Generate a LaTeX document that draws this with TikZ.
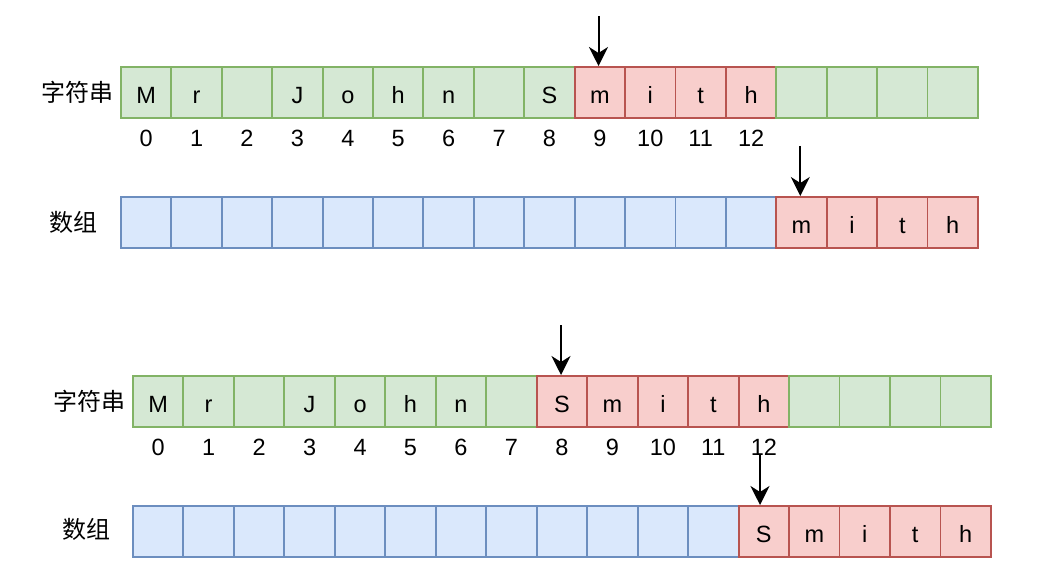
\documentclass[tikz,border=0pt]{standalone}
\usepackage{fontspec}
\setmainfont{Liberation Sans}
\newfontfamily\cjk{Noto Sans CJK SC}
\usetikzlibrary{arrows.meta}
\definecolor{gfill}{HTML}{D5E8D4}
\definecolor{gdraw}{HTML}{82B366}
\definecolor{rfill}{HTML}{F8CECC}
\definecolor{rdraw}{HTML}{B85450}
\definecolor{bfill}{HTML}{DAE8FC}
\definecolor{bdraw}{HTML}{6C8EBF}
\begin{document}
\begin{tikzpicture}[x=1pt,y=-1pt,
  cell/.style={draw, line width=1.9pt, minimum width=50.45pt, minimum height=51pt,
    inner sep=0pt, anchor=north west, font=\fontsize{23.5}{23.5}\selectfont,
    text height=26pt, text depth=4pt},
  idx/.style={anchor=base, inner sep=0pt, font=\fontsize{23.5}{23.5}\selectfont},
  lab/.style={inner sep=0pt, font=\cjk\fontsize{24}{24}\selectfont},
  ptr/.style={line width=2pt, -{Stealth[length=19pt, width=19pt, inset=6pt]}}
]
\useasboundingbox (0,0) rectangle (1040,585);

% ---------- top string row ----------
\foreach \t [count=\i from 0] in {M,r,{},J,o,h,n,{},S,m,i,t,h,{},{},{},{}} {
  \ifnum\i<9 \def\fc{gfill}\def\dc{gdraw}\else
    \ifnum\i<13 \def\fc{rfill}\def\dc{rdraw}\else \def\fc{gfill}\def\dc{gdraw}\fi\fi
  \node[cell, fill=\fc, draw=\dc] (sa\i) at (120+50.41*\i, 66) {\t};
}
\foreach \i in {0,...,12} {
  \node[idx] (ia\i) at ([yshift=-27.5pt]sa\i.south) {\i};
}
% ---------- top array row ----------
\foreach \t [count=\i from 0] in {{},{},{},{},{},{},{},{},{},{},{},{},{},m,i,t,h} {
  \ifnum\i<13 \def\fc{bfill}\def\dc{bdraw}\else \def\fc{rfill}\def\dc{rdraw}\fi
  \node[cell, fill=\fc, draw=\dc] (aa\i) at (120+50.41*\i, 196) {\t};
}
% ---------- bottom string row ----------
\foreach \t [count=\i from 0] in {M,r,{},J,o,h,n,{},S,m,i,t,h,{},{},{},{}} {
  \ifnum\i<8 \def\fc{gfill}\def\dc{gdraw}\else
    \ifnum\i<13 \def\fc{rfill}\def\dc{rdraw}\else \def\fc{gfill}\def\dc{gdraw}\fi\fi
  \node[cell, fill=\fc, draw=\dc] (sb\i) at (132+50.47*\i, 375) {\t};
}
\foreach \i in {0,...,12} {
  \node[idx] (ib\i) at ([yshift=-27.5pt]sb\i.south) {\i};
}
% ---------- bottom array row ----------
\foreach \t [count=\i from 0] in {{},{},{},{},{},{},{},{},{},{},{},{},S,m,i,t,h} {
  \ifnum\i<12 \def\fc{bfill}\def\dc{bdraw}\else \def\fc{rfill}\def\dc{rdraw}\fi
  \node[cell, fill=\fc, draw=\dc] (ab\i) at (132+50.47*\i, 505) {\t};
}

% ---------- labels ----------
\node[lab] (l1) at (77.5, 92) {字符串};
\node[lab] (l2) at (73.5, 222.5) {数组};
\node[lab] (l3) at (89.5, 401.5) {字符串};
\node[lab] (l4) at (86, 529.5) {数组};

% ---------- pointers ----------
\coordinate (p1) at (598.5, 16);
\coordinate (p2) at (800.3, 146);
\coordinate (p3) at (561, 325);
\coordinate (p4) at (760, 455);
\draw[ptr] (p1) -- (p1 |- sa9.north);
\draw[ptr] (p2) -- (p2 |- aa13.north);
\draw[ptr] (p3) -- (p3 |- sb8.north);
\draw[ptr] (p4) -- (p4 |- ab12.north);
\end{tikzpicture}
\end{document}
